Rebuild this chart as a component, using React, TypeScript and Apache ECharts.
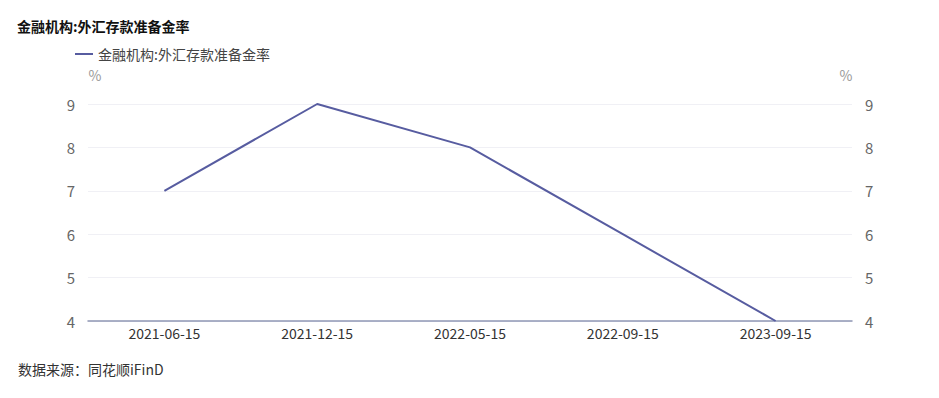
import React, { useEffect, useRef } from "react";
import * as echarts from "echarts";

const categories = ["2021-06-15", "2021-12-15", "2022-05-15", "2022-09-15", "2023-09-15"];
const seriesName = "金融机构:外汇存款准备金率";
const values = [7, 9, 8, 6, 4];
const titleText = "金融机构:外汇存款准备金率";
const sourceText = "数据来源：同花顺iFinD";

const FONT = '"Noto Sans CJK SC", "Noto Sans", sans-serif';

export default function App() {
  const ref = useRef<HTMLDivElement>(null);
  useEffect(() => {
    if (!ref.current) return;
    const chart = echarts.init(ref.current, undefined, { renderer: "svg" });
    const yAxisCommon = {
      type: "value",
      min: 4,
      max: 9,
      interval: 1,
      name: "%",
      nameGap: 22,
      axisLine: { show: false },
      axisTick: { show: false },
      axisLabel: { color: "#666", fontSize: 15, fontFamily: FONT, margin: 13 },
      splitLine: { lineStyle: { color: "#f0f0f5" } },
    };
    chart.setOption({
      animation: false,
      textStyle: { fontFamily: FONT },
      title: {
        text: titleText,
        left: 12,
        top: 14,
        textStyle: { fontSize: 14, fontWeight: "bold", color: "#111", fontFamily: FONT },
      },
      legend: {
        left: 70,
        top: 42,
        itemWidth: 18,
        itemHeight: 2,
        itemGap: 10,
        icon: "rect",
        textStyle: { fontSize: 14, color: "#444", fontFamily: FONT },
        data: [seriesName],
      },
      graphic: [
        {
          type: "text",
          left: 18,
          top: 362,
          style: { text: sourceText, fontSize: 14, fill: "#333", fontFamily: FONT },
        },
      ],
      grid: { left: 88, right: 87, top: 104, bottom: 77, containLabel: false },
      xAxis: {
        type: "category",
        data: categories,
        boundaryGap: true,
        axisLine: { lineStyle: { color: "#8f97b4", width: 1.5 } },
        axisTick: { show: false },
        axisLabel: { color: "#333", fontSize: 14, fontFamily: FONT, margin: 5 },
      },
      yAxis: [
        {
          ...yAxisCommon,
          position: "left",
          nameTextStyle: { color: "#999", fontSize: 14, fontFamily: FONT, padding: [0, 0, 0, 14] },
        },
        {
          ...yAxisCommon,
          position: "right",
          nameTextStyle: { color: "#999", fontSize: 14, fontFamily: FONT, padding: [0, 12, 0, 0] },
        },
      ],
      series: [
        {
          name: seriesName,
          type: "line",
          data: values,
          yAxisIndex: 0,
          symbol: "none",
          lineStyle: { color: "#575ca0", width: 2 },
          itemStyle: { color: "#575ca0" },
        },
      ],
    });
    return () => chart.dispose();
  }, []);
  return <div ref={ref} style={{ width: 939, height: 398, margin: -8 }} />;
}
